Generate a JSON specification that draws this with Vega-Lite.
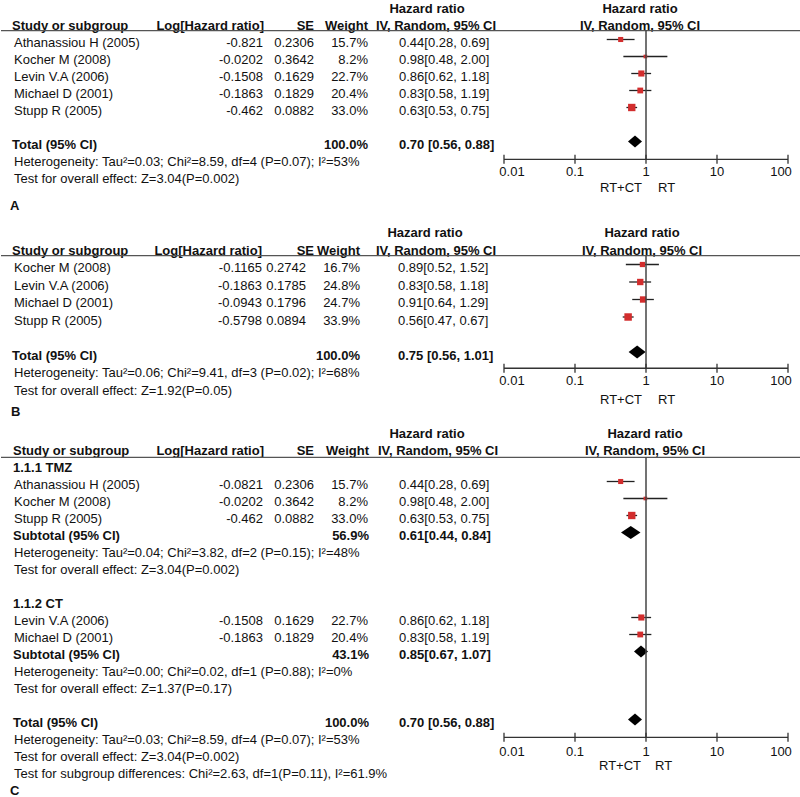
{
"$schema": "https://vega.github.io/schema/vega-lite/v6.json",
"padding": 0,
"spacing": 0,
"bounds": "flush",
"background": "white",
"config": {"view": {"stroke": null}, "text": {"font": "Liberation Sans", "fontSize": 13, "baseline": "middle", "color": "#111"}},
"datasets": {
"ticks": [{"v": 0.01}, {"v": 0.1}, {"v": 1}, {"v": 10}, {"v": 100}],
"tA": [
{"r": -1, "hc": "Hazard ratio", "ph": "Hazard ratio"},
{"r": 0, "label": "Study or subgroup", "lhr": "Log[Hazard ratio]", "se": "SE", "w": "Weight", "b": true, "hc": "IV, Random, 95% CI", "ph": "IV, Random, 95% CI"},
{"r": 1, "label": "Athanassiou H (2005)", "lhr": "-0.821", "se": "0.2306", "w": "15.7%", "ci": "0.44[0.28, 0.69]"},
{"r": 2, "label": "Kocher M (2008)", "lhr": "-0.0202", "se": "0.3642", "w": "8.2%", "ci": "0.98[0.48, 2.00]"},
{"r": 3, "label": "Levin V.A (2006)", "lhr": "-0.1508", "se": "0.1629", "w": "22.7%", "ci": "0.86[0.62, 1.18]"},
{"r": 4, "label": "Michael D (2001)", "lhr": "-0.1863", "se": "0.1829", "w": "20.4%", "ci": "0.83[0.58, 1.19]"},
{"r": 5, "label": "Stupp R (2005)", "lhr": "-0.462", "se": "0.0882", "w": "33.0%", "ci": "0.63[0.53, 0.75]"},
{"r": 7, "label": "Total (95% CI)", "w": "100.0%", "ci": "0.70 [0.56, 0.88]", "b": true},
{"r": 8, "label": "Heterogeneity: Tau²=0.03; Chi²=8.59, df=4 (P=0.07); I²=53%"},
{"r": 9, "label": "Test for overall effect: Z=3.04(P=0.002)"}
],
"fA": [
{"r": 1, "hr": 0.44, "lo": 0.28, "hi": 0.69, "w": 15.7},
{"r": 2, "hr": 0.98, "lo": 0.48, "hi": 2.00, "w": 8.2},
{"r": 3, "hr": 0.86, "lo": 0.62, "hi": 1.18, "w": 22.7},
{"r": 4, "hr": 0.83, "lo": 0.58, "hi": 1.19, "w": 20.4},
{"r": 5, "hr": 0.63, "lo": 0.53, "hi": 0.75, "w": 33.0}
],
"dA": [{"r": 7, "hr": 0.70, "k": "A"}],
"tB": [
{"r": -1, "hc": "Hazard ratio", "ph": "Hazard ratio"},
{"r": 0, "label": "Study or subgroup", "lhr": "Log[Hazard ratio]", "se": "SE", "w": "Weight", "b": true, "hc": "IV, Random, 95% CI", "ph": "IV, Random, 95% CI"},
{"r": 1, "label": "Kocher M (2008)", "lhr": "-0.1165", "se": "0.2742", "w": "16.7%", "ci": "0.89[0.52, 1.52]"},
{"r": 2, "label": "Levin V.A (2006)", "lhr": "-0.1863", "se": "0.1785", "w": "24.8%", "ci": "0.83[0.58, 1.18]"},
{"r": 3, "label": "Michael D (2001)", "lhr": "-0.0943", "se": "0.1796", "w": "24.7%", "ci": "0.91[0.64, 1.29]"},
{"r": 4, "label": "Stupp R (2005)", "lhr": "-0.5798", "se": "0.0894", "w": "33.9%", "ci": "0.56[0.47, 0.67]"},
{"r": 6, "label": "Total (95% CI)", "w": "100.0%", "ci": "0.75 [0.56, 1.01]", "b": true},
{"r": 7, "label": "Heterogeneity: Tau²=0.06; Chi²=9.41, df=3 (P=0.02); I²=68%"},
{"r": 8, "label": "Test for overall effect: Z=1.92(P=0.05)"}
],
"fB": [
{"r": 1, "hr": 0.89, "lo": 0.52, "hi": 1.52, "w": 16.7},
{"r": 2, "hr": 0.83, "lo": 0.58, "hi": 1.18, "w": 24.8},
{"r": 3, "hr": 0.91, "lo": 0.64, "hi": 1.29, "w": 24.7},
{"r": 4, "hr": 0.56, "lo": 0.47, "hi": 0.67, "w": 33.9}
],
"dB": [{"r": 6, "hr": 0.75, "k": "B"}],
"tC": [
{"r": -1, "hc": "Hazard ratio", "ph": "Hazard ratio"},
{"r": 0, "label": "Study or subgroup", "lhr": "Log[Hazard ratio]", "se": "SE", "w": "Weight", "b": true, "hc": "IV, Random, 95% CI", "ph": "IV, Random, 95% CI"},
{"r": 1, "label": "1.1.1 TMZ", "b": true},
{"r": 2, "label": "Athanassiou H (2005)", "lhr": "-0.0821", "se": "0.2306", "w": "15.7%", "ci": "0.44[0.28, 0.69]"},
{"r": 3, "label": "Kocher M (2008)", "lhr": "-0.0202", "se": "0.3642", "w": "8.2%", "ci": "0.98[0.48, 2.00]"},
{"r": 4, "label": "Stupp R (2005)", "lhr": "-0.462", "se": "0.0882", "w": "33.0%", "ci": "0.63[0.53, 0.75]"},
{"r": 5, "label": "Subtotal (95% CI)", "w": "56.9%", "ci": "0.61[0.44, 0.84]", "b": true},
{"r": 6, "label": "Heterogeneity: Tau²=0.04; Chi²=3.82, df=2 (P=0.15); I²=48%"},
{"r": 7, "label": "Test for overall effect: Z=3.04(P=0.002)"},
{"r": 9, "label": "1.1.2 CT", "b": true},
{"r": 10, "label": "Levin V.A (2006)", "lhr": "-0.1508", "se": "0.1629", "w": "22.7%", "ci": "0.86[0.62, 1.18]"},
{"r": 11, "label": "Michael D (2001)", "lhr": "-0.1863", "se": "0.1829", "w": "20.4%", "ci": "0.83[0.58, 1.19]"},
{"r": 12, "label": "Subtotal (95% CI)", "w": "43.1%", "ci": "0.85[0.67, 1.07]", "b": true},
{"r": 13, "label": "Heterogeneity: Tau²=0.00; Chi²=0.02, df=1 (P=0.88); I²=0%"},
{"r": 14, "label": "Test for overall effect: Z=1.37(P=0.17)"},
{"r": 16, "label": "Total (95% CI)", "w": "100.0%", "ci": "0.70 [0.56, 0.88]", "b": true},
{"r": 17, "label": "Heterogeneity: Tau²=0.03; Chi²=8.59, df=4 (P=0.07); I²=53%"},
{"r": 18, "label": "Test for overall effect: Z=3.04(P=0.002)"},
{"r": 19, "label": "Test for subgroup differences: Chi²=2.63, df=1(P=0.11), I²=61.9%"}
],
"fC": [
{"r": 2, "hr": 0.44, "lo": 0.28, "hi": 0.69, "w": 15.7},
{"r": 3, "hr": 0.98, "lo": 0.48, "hi": 2.00, "w": 8.2},
{"r": 4, "hr": 0.63, "lo": 0.53, "hi": 0.75, "w": 33.0},
{"r": 10, "hr": 0.86, "lo": 0.62, "hi": 1.18, "w": 22.7},
{"r": 11, "hr": 0.83, "lo": 0.58, "hi": 1.19, "w": 20.4}
],
"dC": [{"r": 5, "hr": 0.61, "k": "C1"}, {"r": 12, "hr": 0.85, "k": "C2"}, {"r": 16, "hr": 0.70, "k": "C3"}]
},
"vconcat": [
{
"width": 800, "height": 215,
"resolve": {"scale": {"x": "independent"}, "axis": {"x": "independent"}},
"layer": [
{"data": {"name": "tA"}, "layer": [
{"transform": [{"filter": "isValid(datum.label) && !datum.b"}], "mark": {"type": "text", "align": "left"}, "encoding": {"x": {"datum": 13, "type": "quantitative", "scale": {"domain": [0, 800], "range": [0, 800], "nice": false, "zero": false}, "axis": null}, "y": {"field": "r", "type": "quantitative", "scale": {"domain": [0, 10], "range": [26, 196], "nice": false, "zero": false}, "axis": null}, "text": {"field": "label", "type": "nominal"}}},
{"transform": [{"filter": "isValid(datum.label) && datum.b"}], "mark": {"type": "text", "align": "left", "fontWeight": "bold"}, "encoding": {"x": {"datum": 11, "type": "quantitative", "scale": {"domain": [0, 800], "range": [0, 800], "nice": false, "zero": false}, "axis": null}, "y": {"field": "r", "type": "quantitative", "scale": {"domain": [0, 10], "range": [26, 196], "nice": false, "zero": false}, "axis": null}, "text": {"field": "label", "type": "nominal"}}},
{"transform": [{"filter": "isValid(datum.lhr) && !datum.b"}], "mark": {"type": "text", "align": "right"}, "encoding": {"x": {"datum": 262, "type": "quantitative", "scale": {"domain": [0, 800], "range": [0, 800], "nice": false, "zero": false}, "axis": null}, "y": {"field": "r", "type": "quantitative", "scale": {"domain": [0, 10], "range": [26, 196], "nice": false, "zero": false}, "axis": null}, "text": {"field": "lhr", "type": "nominal"}}},
{"transform": [{"filter": "isValid(datum.lhr) && datum.b"}], "mark": {"type": "text", "align": "right", "fontWeight": "bold"}, "encoding": {"x": {"datum": 263, "type": "quantitative", "scale": {"domain": [0, 800], "range": [0, 800], "nice": false, "zero": false}, "axis": null}, "y": {"field": "r", "type": "quantitative", "scale": {"domain": [0, 10], "range": [26, 196], "nice": false, "zero": false}, "axis": null}, "text": {"field": "lhr", "type": "nominal"}}},
{"transform": [{"filter": "isValid(datum.se) && !datum.b"}], "mark": {"type": "text", "align": "right"}, "encoding": {"x": {"datum": 313, "type": "quantitative", "scale": {"domain": [0, 800], "range": [0, 800], "nice": false, "zero": false}, "axis": null}, "y": {"field": "r", "type": "quantitative", "scale": {"domain": [0, 10], "range": [26, 196], "nice": false, "zero": false}, "axis": null}, "text": {"field": "se", "type": "nominal"}}},
{"transform": [{"filter": "isValid(datum.se) && datum.b"}], "mark": {"type": "text", "align": "right", "fontWeight": "bold"}, "encoding": {"x": {"datum": 313, "type": "quantitative", "scale": {"domain": [0, 800], "range": [0, 800], "nice": false, "zero": false}, "axis": null}, "y": {"field": "r", "type": "quantitative", "scale": {"domain": [0, 10], "range": [26, 196], "nice": false, "zero": false}, "axis": null}, "text": {"field": "se", "type": "nominal"}}},
{"transform": [{"filter": "isValid(datum.w) && !datum.b"}], "mark": {"type": "text", "align": "right"}, "encoding": {"x": {"datum": 367, "type": "quantitative", "scale": {"domain": [0, 800], "range": [0, 800], "nice": false, "zero": false}, "axis": null}, "y": {"field": "r", "type": "quantitative", "scale": {"domain": [0, 10], "range": [26, 196], "nice": false, "zero": false}, "axis": null}, "text": {"field": "w", "type": "nominal"}}},
{"transform": [{"filter": "isValid(datum.w) && datum.b"}], "mark": {"type": "text", "align": "right", "fontWeight": "bold"}, "encoding": {"x": {"datum": 367, "type": "quantitative", "scale": {"domain": [0, 800], "range": [0, 800], "nice": false, "zero": false}, "axis": null}, "y": {"field": "r", "type": "quantitative", "scale": {"domain": [0, 10], "range": [26, 196], "nice": false, "zero": false}, "axis": null}, "text": {"field": "w", "type": "nominal"}}},
{"transform": [{"filter": "isValid(datum.ci) && !datum.b"}], "mark": {"type": "text", "align": "left"}, "encoding": {"x": {"datum": 398, "type": "quantitative", "scale": {"domain": [0, 800], "range": [0, 800], "nice": false, "zero": false}, "axis": null}, "y": {"field": "r", "type": "quantitative", "scale": {"domain": [0, 10], "range": [26, 196], "nice": false, "zero": false}, "axis": null}, "text": {"field": "ci", "type": "nominal"}}},
{"transform": [{"filter": "isValid(datum.ci) && datum.b"}], "mark": {"type": "text", "align": "left", "fontWeight": "bold"}, "encoding": {"x": {"datum": 398, "type": "quantitative", "scale": {"domain": [0, 800], "range": [0, 800], "nice": false, "zero": false}, "axis": null}, "y": {"field": "r", "type": "quantitative", "scale": {"domain": [0, 10], "range": [26, 196], "nice": false, "zero": false}, "axis": null}, "text": {"field": "ci", "type": "nominal"}}},
{"transform": [{"filter": "isValid(datum.hc) && datum.r < 0"}], "mark": {"type": "text", "align": "center", "fontWeight": "bold"}, "encoding": {"x": {"datum": 426, "type": "quantitative", "scale": {"domain": [0, 800], "range": [0, 800], "nice": false, "zero": false}, "axis": null}, "y": {"field": "r", "type": "quantitative", "scale": {"domain": [0, 10], "range": [26, 196], "nice": false, "zero": false}, "axis": null}, "text": {"field": "hc", "type": "nominal"}}},
{"transform": [{"filter": "isValid(datum.hc) && datum.r >= 0"}], "mark": {"type": "text", "align": "center", "fontWeight": "bold"}, "encoding": {"x": {"datum": 435, "type": "quantitative", "scale": {"domain": [0, 800], "range": [0, 800], "nice": false, "zero": false}, "axis": null}, "y": {"field": "r", "type": "quantitative", "scale": {"domain": [0, 10], "range": [26, 196], "nice": false, "zero": false}, "axis": null}, "text": {"field": "hc", "type": "nominal"}}},
{"transform": [{"filter": "isValid(datum.ph)"}], "mark": {"type": "text", "align": "center", "fontWeight": "bold"}, "encoding": {"x": {"datum": 639, "type": "quantitative", "scale": {"domain": [0, 800], "range": [0, 800], "nice": false, "zero": false}, "axis": null}, "y": {"field": "r", "type": "quantitative", "scale": {"domain": [0, 10], "range": [26, 196], "nice": false, "zero": false}, "axis": null}, "text": {"field": "ph", "type": "nominal"}}},
{"data": {"values": [{}]}, "mark": {"type": "rule", "color": "#555", "strokeWidth": 1.3}, "encoding": {"y": {"datum": 0.27, "type": "quantitative", "scale": {"domain": [0, 10], "range": [26, 196], "nice": false, "zero": false}, "axis": null}}},
{"data": {"values": [{}]}, "mark": {"type": "text", "align": "left", "fontWeight": "bold"}, "encoding": {"x": {"datum": 9, "type": "quantitative", "scale": {"domain": [0, 800], "range": [0, 800], "nice": false, "zero": false}, "axis": null}, "y": {"datum": 10.57, "type": "quantitative", "scale": {"domain": [0, 10], "range": [26, 196], "nice": false, "zero": false}, "axis": null}, "text": {"value": "A"}}}
]},
{"layer": [
{"data": {"name": "fA"}, "mark": {"type": "rule", "color": "#222", "strokeWidth": 1.3, "yOffset": -3.5}, "encoding": {"x": {"field": "lo", "type": "quantitative", "scale": {"type": "log", "domain": [0.01, 100], "range": [503, 787], "nice": false}, "axis": null}, "x2": {"field": "hi"}, "y": {"field": "r", "type": "quantitative", "scale": {"domain": [0, 10], "range": [26, 196], "nice": false, "zero": false}, "axis": null}}},
{"data": {"name": "fA"}, "mark": {"type": "point", "shape": "square", "filled": true, "color": "#d22d2d", "opacity": 1, "yOffset": -3.5}, "encoding": {"x": {"field": "hr", "type": "quantitative", "scale": {"type": "log", "domain": [0.01, 100], "range": [503, 787], "nice": false}, "axis": null}, "y": {"field": "r", "type": "quantitative", "scale": {"domain": [0, 10], "range": [26, 196], "nice": false, "zero": false}, "axis": null}, "size": {"field": "w", "type": "quantitative", "scale": {"domain": [0, 34], "range": [0, 56]}, "legend": null}}},
{"data": {"name": "dA"}, "mark": {"type": "point", "filled": true, "color": "#000", "opacity": 1, "size": 169, "yOffset": -3.5}, "encoding": {"x": {"field": "hr", "type": "quantitative", "scale": {"type": "log", "domain": [0.01, 100], "range": [503, 787], "nice": false}, "axis": null}, "y": {"field": "r", "type": "quantitative", "scale": {"domain": [0, 10], "range": [26, 196], "nice": false, "zero": false}, "axis": null}, "shape": {"field": "k", "type": "nominal", "scale": {"domain": ["A", "B", "C1", "C2", "C3"], "range": ["M-1.08,0L0,-0.92L1.08,0L0,0.92Z", "M-1.31,0L0,-1L1.31,0L0,1Z", "M-1.5,0L0,-1L1.5,0L0,1Z", "M-1.08,0L0,-0.92L1.08,0L0,0.92Z", "M-1.08,0L0,-0.92L1.08,0L0,0.92Z"]}, "legend": null}}},
{"data": {"values": [{}]}, "mark": {"type": "rule", "color": "#444", "strokeWidth": 1.5}, "encoding": {"x": {"datum": 1, "type": "quantitative", "scale": {"type": "log", "domain": [0.01, 100], "range": [503, 787], "nice": false}, "axis": null}, "y": {"datum": 0.27, "type": "quantitative", "scale": {"domain": [0, 10], "range": [26, 196], "nice": false, "zero": false}, "axis": null}, "y2": {"datum": 7.84}}},
{"data": {"values": [{}]}, "mark": {"type": "rule", "color": "#333", "strokeWidth": 1.3}, "encoding": {"x": {"datum": 0.01, "type": "quantitative", "scale": {"type": "log", "domain": [0.01, 100], "range": [503, 787], "nice": false}, "axis": null}, "x2": {"datum": 100}, "y": {"datum": 7.84, "type": "quantitative", "scale": {"domain": [0, 10], "range": [26, 196], "nice": false, "zero": false}, "axis": null}}},
{"data": {"name": "ticks"}, "mark": {"type": "rule", "color": "#333", "strokeWidth": 1.3}, "encoding": {"x": {"field": "v", "type": "quantitative", "scale": {"type": "log", "domain": [0.01, 100], "range": [503, 787], "nice": false}, "axis": null}, "y": {"datum": 7.575, "type": "quantitative", "scale": {"domain": [0, 10], "range": [26, 196], "nice": false, "zero": false}, "axis": null}, "y2": {"datum": 8.105}}},
{"data": {"name": "ticks"}, "transform": [{"filter": "datum.v > 0.01 && datum.v < 100"}], "mark": {"type": "text", "align": "center"}, "encoding": {"x": {"field": "v", "type": "quantitative", "scale": {"type": "log", "domain": [0.01, 100], "range": [503, 787], "nice": false}, "axis": null}, "y": {"datum": 8.615, "type": "quantitative", "scale": {"domain": [0, 10], "range": [26, 196], "nice": false, "zero": false}, "axis": null}, "text": {"field": "v", "type": "quantitative", "format": "~g"}}},
{"data": {"name": "ticks"}, "transform": [{"filter": "datum.v <= 0.01"}], "mark": {"type": "text", "align": "center", "dx": 8}, "encoding": {"x": {"field": "v", "type": "quantitative", "scale": {"type": "log", "domain": [0.01, 100], "range": [503, 787], "nice": false}, "axis": null}, "y": {"datum": 8.615, "type": "quantitative", "scale": {"domain": [0, 10], "range": [26, 196], "nice": false, "zero": false}, "axis": null}, "text": {"field": "v", "type": "quantitative", "format": "~g"}}},
{"data": {"name": "ticks"}, "transform": [{"filter": "datum.v >= 100"}], "mark": {"type": "text", "align": "center", "dx": -7}, "encoding": {"x": {"field": "v", "type": "quantitative", "scale": {"type": "log", "domain": [0.01, 100], "range": [503, 787], "nice": false}, "axis": null}, "y": {"datum": 8.615, "type": "quantitative", "scale": {"domain": [0, 10], "range": [26, 196], "nice": false, "zero": false}, "axis": null}, "text": {"field": "v", "type": "quantitative", "format": "~g"}}},
{"data": {"values": [{}]}, "mark": {"type": "text", "align": "right", "dx": -4}, "encoding": {"x": {"datum": 1, "type": "quantitative", "scale": {"type": "log", "domain": [0.01, 100], "range": [503, 787], "nice": false}, "axis": null}, "y": {"datum": 9.53, "type": "quantitative", "scale": {"domain": [0, 10], "range": [26, 196], "nice": false, "zero": false}, "axis": null}, "text": {"value": "RT+CT"}}},
{"data": {"values": [{}]}, "mark": {"type": "text", "align": "left", "dx": 12}, "encoding": {"x": {"datum": 1, "type": "quantitative", "scale": {"type": "log", "domain": [0.01, 100], "range": [503, 787], "nice": false}, "axis": null}, "y": {"datum": 9.53, "type": "quantitative", "scale": {"domain": [0, 10], "range": [26, 196], "nice": false, "zero": false}, "axis": null}, "text": {"value": "RT"}}}
]}
]
},
{
"width": 800, "height": 200,
"resolve": {"scale": {"x": "independent"}, "axis": {"x": "independent"}},
"layer": [
{"data": {"name": "tB"}, "layer": [
{"transform": [{"filter": "isValid(datum.label) && !datum.b"}], "mark": {"type": "text", "align": "left"}, "encoding": {"x": {"datum": 13, "type": "quantitative", "scale": {"domain": [0, 800], "range": [0, 800], "nice": false, "zero": false}, "axis": null}, "y": {"field": "r", "type": "quantitative", "scale": {"domain": [0, 10], "range": [35.5, 210.5], "nice": false, "zero": false}, "axis": null}, "text": {"field": "label", "type": "nominal"}}},
{"transform": [{"filter": "isValid(datum.label) && datum.b"}], "mark": {"type": "text", "align": "left", "fontWeight": "bold"}, "encoding": {"x": {"datum": 11, "type": "quantitative", "scale": {"domain": [0, 800], "range": [0, 800], "nice": false, "zero": false}, "axis": null}, "y": {"field": "r", "type": "quantitative", "scale": {"domain": [0, 10], "range": [35.5, 210.5], "nice": false, "zero": false}, "axis": null}, "text": {"field": "label", "type": "nominal"}}},
{"transform": [{"filter": "isValid(datum.lhr) && !datum.b"}], "mark": {"type": "text", "align": "right"}, "encoding": {"x": {"datum": 261, "type": "quantitative", "scale": {"domain": [0, 800], "range": [0, 800], "nice": false, "zero": false}, "axis": null}, "y": {"field": "r", "type": "quantitative", "scale": {"domain": [0, 10], "range": [35.5, 210.5], "nice": false, "zero": false}, "axis": null}, "text": {"field": "lhr", "type": "nominal"}}},
{"transform": [{"filter": "isValid(datum.lhr) && datum.b"}], "mark": {"type": "text", "align": "right", "fontWeight": "bold"}, "encoding": {"x": {"datum": 261, "type": "quantitative", "scale": {"domain": [0, 800], "range": [0, 800], "nice": false, "zero": false}, "axis": null}, "y": {"field": "r", "type": "quantitative", "scale": {"domain": [0, 10], "range": [35.5, 210.5], "nice": false, "zero": false}, "axis": null}, "text": {"field": "lhr", "type": "nominal"}}},
{"transform": [{"filter": "isValid(datum.se) && !datum.b"}], "mark": {"type": "text", "align": "right"}, "encoding": {"x": {"datum": 305, "type": "quantitative", "scale": {"domain": [0, 800], "range": [0, 800], "nice": false, "zero": false}, "axis": null}, "y": {"field": "r", "type": "quantitative", "scale": {"domain": [0, 10], "range": [35.5, 210.5], "nice": false, "zero": false}, "axis": null}, "text": {"field": "se", "type": "nominal"}}},
{"transform": [{"filter": "isValid(datum.se) && datum.b"}], "mark": {"type": "text", "align": "right", "fontWeight": "bold"}, "encoding": {"x": {"datum": 313, "type": "quantitative", "scale": {"domain": [0, 800], "range": [0, 800], "nice": false, "zero": false}, "axis": null}, "y": {"field": "r", "type": "quantitative", "scale": {"domain": [0, 10], "range": [35.5, 210.5], "nice": false, "zero": false}, "axis": null}, "text": {"field": "se", "type": "nominal"}}},
{"transform": [{"filter": "isValid(datum.w) && !datum.b"}], "mark": {"type": "text", "align": "right"}, "encoding": {"x": {"datum": 359, "type": "quantitative", "scale": {"domain": [0, 800], "range": [0, 800], "nice": false, "zero": false}, "axis": null}, "y": {"field": "r", "type": "quantitative", "scale": {"domain": [0, 10], "range": [35.5, 210.5], "nice": false, "zero": false}, "axis": null}, "text": {"field": "w", "type": "nominal"}}},
{"transform": [{"filter": "isValid(datum.w) && datum.b"}], "mark": {"type": "text", "align": "right", "fontWeight": "bold"}, "encoding": {"x": {"datum": 359, "type": "quantitative", "scale": {"domain": [0, 800], "range": [0, 800], "nice": false, "zero": false}, "axis": null}, "y": {"field": "r", "type": "quantitative", "scale": {"domain": [0, 10], "range": [35.5, 210.5], "nice": false, "zero": false}, "axis": null}, "text": {"field": "w", "type": "nominal"}}},
{"transform": [{"filter": "isValid(datum.ci) && !datum.b"}], "mark": {"type": "text", "align": "left"}, "encoding": {"x": {"datum": 397, "type": "quantitative", "scale": {"domain": [0, 800], "range": [0, 800], "nice": false, "zero": false}, "axis": null}, "y": {"field": "r", "type": "quantitative", "scale": {"domain": [0, 10], "range": [35.5, 210.5], "nice": false, "zero": false}, "axis": null}, "text": {"field": "ci", "type": "nominal"}}},
{"transform": [{"filter": "isValid(datum.ci) && datum.b"}], "mark": {"type": "text", "align": "left", "fontWeight": "bold"}, "encoding": {"x": {"datum": 397, "type": "quantitative", "scale": {"domain": [0, 800], "range": [0, 800], "nice": false, "zero": false}, "axis": null}, "y": {"field": "r", "type": "quantitative", "scale": {"domain": [0, 10], "range": [35.5, 210.5], "nice": false, "zero": false}, "axis": null}, "text": {"field": "ci", "type": "nominal"}}},
{"transform": [{"filter": "isValid(datum.hc) && datum.r < 0"}], "mark": {"type": "text", "align": "center", "fontWeight": "bold"}, "encoding": {"x": {"datum": 424, "type": "quantitative", "scale": {"domain": [0, 800], "range": [0, 800], "nice": false, "zero": false}, "axis": null}, "y": {"field": "r", "type": "quantitative", "scale": {"domain": [0, 10], "range": [35.5, 210.5], "nice": false, "zero": false}, "axis": null}, "text": {"field": "hc", "type": "nominal"}}},
{"transform": [{"filter": "isValid(datum.hc) && datum.r >= 0"}], "mark": {"type": "text", "align": "center", "fontWeight": "bold"}, "encoding": {"x": {"datum": 435, "type": "quantitative", "scale": {"domain": [0, 800], "range": [0, 800], "nice": false, "zero": false}, "axis": null}, "y": {"field": "r", "type": "quantitative", "scale": {"domain": [0, 10], "range": [35.5, 210.5], "nice": false, "zero": false}, "axis": null}, "text": {"field": "hc", "type": "nominal"}}},
{"transform": [{"filter": "isValid(datum.ph)"}], "mark": {"type": "text", "align": "center", "fontWeight": "bold"}, "encoding": {"x": {"datum": 641, "type": "quantitative", "scale": {"domain": [0, 800], "range": [0, 800], "nice": false, "zero": false}, "axis": null}, "y": {"field": "r", "type": "quantitative", "scale": {"domain": [0, 10], "range": [35.5, 210.5], "nice": false, "zero": false}, "axis": null}, "text": {"field": "ph", "type": "nominal"}}},
{"data": {"values": [{}]}, "mark": {"type": "rule", "color": "#555", "strokeWidth": 1.3}, "encoding": {"y": {"datum": 0.29, "type": "quantitative", "scale": {"domain": [0, 10], "range": [35.5, 210.5], "nice": false, "zero": false}, "axis": null}}},
{"data": {"values": [{}]}, "mark": {"type": "text", "align": "left", "fontWeight": "bold"}, "encoding": {"x": {"datum": 10, "type": "quantitative", "scale": {"domain": [0, 800], "range": [0, 800], "nice": false, "zero": false}, "axis": null}, "y": {"datum": 9.25, "type": "quantitative", "scale": {"domain": [0, 10], "range": [35.5, 210.5], "nice": false, "zero": false}, "axis": null}, "text": {"value": "B"}}}
]},
{"layer": [
{"data": {"name": "fB"}, "mark": {"type": "rule", "color": "#222", "strokeWidth": 1.3, "yOffset": -3.5}, "encoding": {"x": {"field": "lo", "type": "quantitative", "scale": {"type": "log", "domain": [0.01, 100], "range": [503, 787], "nice": false}, "axis": null}, "x2": {"field": "hi"}, "y": {"field": "r", "type": "quantitative", "scale": {"domain": [0, 10], "range": [35.5, 210.5], "nice": false, "zero": false}, "axis": null}}},
{"data": {"name": "fB"}, "mark": {"type": "point", "shape": "square", "filled": true, "color": "#d22d2d", "opacity": 1, "yOffset": -3.5}, "encoding": {"x": {"field": "hr", "type": "quantitative", "scale": {"type": "log", "domain": [0.01, 100], "range": [503, 787], "nice": false}, "axis": null}, "y": {"field": "r", "type": "quantitative", "scale": {"domain": [0, 10], "range": [35.5, 210.5], "nice": false, "zero": false}, "axis": null}, "size": {"field": "w", "type": "quantitative", "scale": {"domain": [0, 34], "range": [0, 56]}, "legend": null}}},
{"data": {"name": "dB"}, "mark": {"type": "point", "filled": true, "color": "#000", "opacity": 1, "size": 169, "yOffset": -3.5}, "encoding": {"x": {"field": "hr", "type": "quantitative", "scale": {"type": "log", "domain": [0.01, 100], "range": [503, 787], "nice": false}, "axis": null}, "y": {"field": "r", "type": "quantitative", "scale": {"domain": [0, 10], "range": [35.5, 210.5], "nice": false, "zero": false}, "axis": null}, "shape": {"field": "k", "type": "nominal", "scale": {"domain": ["A", "B", "C1", "C2", "C3"], "range": ["M-1.08,0L0,-0.92L1.08,0L0,0.92Z", "M-1.31,0L0,-1L1.31,0L0,1Z", "M-1.5,0L0,-1L1.5,0L0,1Z", "M-1.08,0L0,-0.92L1.08,0L0,0.92Z", "M-1.08,0L0,-0.92L1.08,0L0,0.92Z"]}, "legend": null}}},
{"data": {"values": [{}]}, "mark": {"type": "rule", "color": "#444", "strokeWidth": 1.5}, "encoding": {"x": {"datum": 1, "type": "quantitative", "scale": {"type": "log", "domain": [0.01, 100], "range": [503, 787], "nice": false}, "axis": null}, "y": {"datum": 0.29, "type": "quantitative", "scale": {"domain": [0, 10], "range": [35.5, 210.5], "nice": false, "zero": false}, "axis": null}, "y2": {"datum": 6.73}}},
{"data": {"values": [{}]}, "mark": {"type": "rule", "color": "#333", "strokeWidth": 1.3}, "encoding": {"x": {"datum": 0.01, "type": "quantitative", "scale": {"type": "log", "domain": [0.01, 100], "range": [503, 787], "nice": false}, "axis": null}, "x2": {"datum": 100}, "y": {"datum": 6.73, "type": "quantitative", "scale": {"domain": [0, 10], "range": [35.5, 210.5], "nice": false, "zero": false}, "axis": null}}},
{"data": {"name": "ticks"}, "mark": {"type": "rule", "color": "#333", "strokeWidth": 1.3}, "encoding": {"x": {"field": "v", "type": "quantitative", "scale": {"type": "log", "domain": [0.01, 100], "range": [503, 787], "nice": false}, "axis": null}, "y": {"datum": 6.47, "type": "quantitative", "scale": {"domain": [0, 10], "range": [35.5, 210.5], "nice": false, "zero": false}, "axis": null}, "y2": {"datum": 6.99}}},
{"data": {"name": "ticks"}, "transform": [{"filter": "datum.v > 0.01 && datum.v < 100"}], "mark": {"type": "text", "align": "center"}, "encoding": {"x": {"field": "v", "type": "quantitative", "scale": {"type": "log", "domain": [0.01, 100], "range": [503, 787], "nice": false}, "axis": null}, "y": {"datum": 7.48, "type": "quantitative", "scale": {"domain": [0, 10], "range": [35.5, 210.5], "nice": false, "zero": false}, "axis": null}, "text": {"field": "v", "type": "quantitative", "format": "~g"}}},
{"data": {"name": "ticks"}, "transform": [{"filter": "datum.v <= 0.01"}], "mark": {"type": "text", "align": "center", "dx": 8}, "encoding": {"x": {"field": "v", "type": "quantitative", "scale": {"type": "log", "domain": [0.01, 100], "range": [503, 787], "nice": false}, "axis": null}, "y": {"datum": 7.48, "type": "quantitative", "scale": {"domain": [0, 10], "range": [35.5, 210.5], "nice": false, "zero": false}, "axis": null}, "text": {"field": "v", "type": "quantitative", "format": "~g"}}},
{"data": {"name": "ticks"}, "transform": [{"filter": "datum.v >= 100"}], "mark": {"type": "text", "align": "center", "dx": -7}, "encoding": {"x": {"field": "v", "type": "quantitative", "scale": {"type": "log", "domain": [0.01, 100], "range": [503, 787], "nice": false}, "axis": null}, "y": {"datum": 7.48, "type": "quantitative", "scale": {"domain": [0, 10], "range": [35.5, 210.5], "nice": false, "zero": false}, "axis": null}, "text": {"field": "v", "type": "quantitative", "format": "~g"}}},
{"data": {"values": [{}]}, "mark": {"type": "text", "align": "right", "dx": -4}, "encoding": {"x": {"datum": 1, "type": "quantitative", "scale": {"type": "log", "domain": [0.01, 100], "range": [503, 787], "nice": false}, "axis": null}, "y": {"datum": 8.53, "type": "quantitative", "scale": {"domain": [0, 10], "range": [35.5, 210.5], "nice": false, "zero": false}, "axis": null}, "text": {"value": "RT+CT"}}},
{"data": {"values": [{}]}, "mark": {"type": "text", "align": "left", "dx": 12}, "encoding": {"x": {"datum": 1, "type": "quantitative", "scale": {"type": "log", "domain": [0.01, 100], "range": [503, 787], "nice": false}, "axis": null}, "y": {"datum": 8.53, "type": "quantitative", "scale": {"domain": [0, 10], "range": [35.5, 210.5], "nice": false, "zero": false}, "axis": null}, "text": {"value": "RT"}}}
]}
]
},
{
"width": 800, "height": 382,
"resolve": {"scale": {"x": "independent"}, "axis": {"x": "independent"}},
"layer": [
{"data": {"name": "tC"}, "layer": [
{"transform": [{"filter": "isValid(datum.label) && !datum.b"}], "mark": {"type": "text", "align": "left"}, "encoding": {"x": {"datum": 13, "type": "quantitative", "scale": {"domain": [0, 800], "range": [0, 800], "nice": false, "zero": false}, "axis": null}, "y": {"field": "r", "type": "quantitative", "scale": {"domain": [0, 20], "range": [36, 376], "nice": false, "zero": false}, "axis": null}, "text": {"field": "label", "type": "nominal"}}},
{"transform": [{"filter": "isValid(datum.label) && datum.b"}], "mark": {"type": "text", "align": "left", "fontWeight": "bold"}, "encoding": {"x": {"datum": 12, "type": "quantitative", "scale": {"domain": [0, 800], "range": [0, 800], "nice": false, "zero": false}, "axis": null}, "y": {"field": "r", "type": "quantitative", "scale": {"domain": [0, 20], "range": [36, 376], "nice": false, "zero": false}, "axis": null}, "text": {"field": "label", "type": "nominal"}}},
{"transform": [{"filter": "isValid(datum.lhr) && !datum.b"}], "mark": {"type": "text", "align": "right"}, "encoding": {"x": {"datum": 262, "type": "quantitative", "scale": {"domain": [0, 800], "range": [0, 800], "nice": false, "zero": false}, "axis": null}, "y": {"field": "r", "type": "quantitative", "scale": {"domain": [0, 20], "range": [36, 376], "nice": false, "zero": false}, "axis": null}, "text": {"field": "lhr", "type": "nominal"}}},
{"transform": [{"filter": "isValid(datum.lhr) && datum.b"}], "mark": {"type": "text", "align": "right", "fontWeight": "bold"}, "encoding": {"x": {"datum": 263, "type": "quantitative", "scale": {"domain": [0, 800], "range": [0, 800], "nice": false, "zero": false}, "axis": null}, "y": {"field": "r", "type": "quantitative", "scale": {"domain": [0, 20], "range": [36, 376], "nice": false, "zero": false}, "axis": null}, "text": {"field": "lhr", "type": "nominal"}}},
{"transform": [{"filter": "isValid(datum.se) && !datum.b"}], "mark": {"type": "text", "align": "right"}, "encoding": {"x": {"datum": 313, "type": "quantitative", "scale": {"domain": [0, 800], "range": [0, 800], "nice": false, "zero": false}, "axis": null}, "y": {"field": "r", "type": "quantitative", "scale": {"domain": [0, 20], "range": [36, 376], "nice": false, "zero": false}, "axis": null}, "text": {"field": "se", "type": "nominal"}}},
{"transform": [{"filter": "isValid(datum.se) && datum.b"}], "mark": {"type": "text", "align": "right", "fontWeight": "bold"}, "encoding": {"x": {"datum": 313, "type": "quantitative", "scale": {"domain": [0, 800], "range": [0, 800], "nice": false, "zero": false}, "axis": null}, "y": {"field": "r", "type": "quantitative", "scale": {"domain": [0, 20], "range": [36, 376], "nice": false, "zero": false}, "axis": null}, "text": {"field": "se", "type": "nominal"}}},
{"transform": [{"filter": "isValid(datum.w) && !datum.b"}], "mark": {"type": "text", "align": "right"}, "encoding": {"x": {"datum": 367, "type": "quantitative", "scale": {"domain": [0, 800], "range": [0, 800], "nice": false, "zero": false}, "axis": null}, "y": {"field": "r", "type": "quantitative", "scale": {"domain": [0, 20], "range": [36, 376], "nice": false, "zero": false}, "axis": null}, "text": {"field": "w", "type": "nominal"}}},
{"transform": [{"filter": "isValid(datum.w) && datum.b"}], "mark": {"type": "text", "align": "right", "fontWeight": "bold"}, "encoding": {"x": {"datum": 368, "type": "quantitative", "scale": {"domain": [0, 800], "range": [0, 800], "nice": false, "zero": false}, "axis": null}, "y": {"field": "r", "type": "quantitative", "scale": {"domain": [0, 20], "range": [36, 376], "nice": false, "zero": false}, "axis": null}, "text": {"field": "w", "type": "nominal"}}},
{"transform": [{"filter": "isValid(datum.ci) && !datum.b"}], "mark": {"type": "text", "align": "left"}, "encoding": {"x": {"datum": 398, "type": "quantitative", "scale": {"domain": [0, 800], "range": [0, 800], "nice": false, "zero": false}, "axis": null}, "y": {"field": "r", "type": "quantitative", "scale": {"domain": [0, 20], "range": [36, 376], "nice": false, "zero": false}, "axis": null}, "text": {"field": "ci", "type": "nominal"}}},
{"transform": [{"filter": "isValid(datum.ci) && datum.b"}], "mark": {"type": "text", "align": "left", "fontWeight": "bold"}, "encoding": {"x": {"datum": 398, "type": "quantitative", "scale": {"domain": [0, 800], "range": [0, 800], "nice": false, "zero": false}, "axis": null}, "y": {"field": "r", "type": "quantitative", "scale": {"domain": [0, 20], "range": [36, 376], "nice": false, "zero": false}, "axis": null}, "text": {"field": "ci", "type": "nominal"}}},
{"transform": [{"filter": "isValid(datum.hc) && datum.r < 0"}], "mark": {"type": "text", "align": "center", "fontWeight": "bold"}, "encoding": {"x": {"datum": 426, "type": "quantitative", "scale": {"domain": [0, 800], "range": [0, 800], "nice": false, "zero": false}, "axis": null}, "y": {"field": "r", "type": "quantitative", "scale": {"domain": [0, 20], "range": [36, 376], "nice": false, "zero": false}, "axis": null}, "text": {"field": "hc", "type": "nominal"}}},
{"transform": [{"filter": "isValid(datum.hc) && datum.r >= 0"}], "mark": {"type": "text", "align": "center", "fontWeight": "bold"}, "encoding": {"x": {"datum": 437, "type": "quantitative", "scale": {"domain": [0, 800], "range": [0, 800], "nice": false, "zero": false}, "axis": null}, "y": {"field": "r", "type": "quantitative", "scale": {"domain": [0, 20], "range": [36, 376], "nice": false, "zero": false}, "axis": null}, "text": {"field": "hc", "type": "nominal"}}},
{"transform": [{"filter": "isValid(datum.ph)"}], "mark": {"type": "text", "align": "center", "fontWeight": "bold"}, "encoding": {"x": {"datum": 644, "type": "quantitative", "scale": {"domain": [0, 800], "range": [0, 800], "nice": false, "zero": false}, "axis": null}, "y": {"field": "r", "type": "quantitative", "scale": {"domain": [0, 20], "range": [36, 376], "nice": false, "zero": false}, "axis": null}, "text": {"field": "ph", "type": "nominal"}}},
{"data": {"values": [{}]}, "mark": {"type": "rule", "color": "#555", "strokeWidth": 1.3}, "encoding": {"y": {"datum": 0.37, "type": "quantitative", "scale": {"domain": [0, 20], "range": [36, 376], "nice": false, "zero": false}, "axis": null}}},
{"data": {"values": [{}]}, "mark": {"type": "text", "align": "left", "fontWeight": "bold"}, "encoding": {"x": {"datum": 9, "type": "quantitative", "scale": {"domain": [0, 800], "range": [0, 800], "nice": false, "zero": false}, "axis": null}, "y": {"datum": 20, "type": "quantitative", "scale": {"domain": [0, 20], "range": [36, 376], "nice": false, "zero": false}, "axis": null}, "text": {"value": "C"}}}
]},
{"layer": [
{"data": {"name": "fC"}, "mark": {"type": "rule", "color": "#222", "strokeWidth": 1.3, "yOffset": -3.5}, "encoding": {"x": {"field": "lo", "type": "quantitative", "scale": {"type": "log", "domain": [0.01, 100], "range": [503, 787], "nice": false}, "axis": null}, "x2": {"field": "hi"}, "y": {"field": "r", "type": "quantitative", "scale": {"domain": [0, 20], "range": [36, 376], "nice": false, "zero": false}, "axis": null}}},
{"data": {"name": "fC"}, "mark": {"type": "point", "shape": "square", "filled": true, "color": "#d22d2d", "opacity": 1, "yOffset": -3.5}, "encoding": {"x": {"field": "hr", "type": "quantitative", "scale": {"type": "log", "domain": [0.01, 100], "range": [503, 787], "nice": false}, "axis": null}, "y": {"field": "r", "type": "quantitative", "scale": {"domain": [0, 20], "range": [36, 376], "nice": false, "zero": false}, "axis": null}, "size": {"field": "w", "type": "quantitative", "scale": {"domain": [0, 34], "range": [0, 56]}, "legend": null}}},
{"data": {"name": "dC"}, "mark": {"type": "point", "filled": true, "color": "#000", "opacity": 1, "size": 169, "yOffset": -3.5}, "encoding": {"x": {"field": "hr", "type": "quantitative", "scale": {"type": "log", "domain": [0.01, 100], "range": [503, 787], "nice": false}, "axis": null}, "y": {"field": "r", "type": "quantitative", "scale": {"domain": [0, 20], "range": [36, 376], "nice": false, "zero": false}, "axis": null}, "shape": {"field": "k", "type": "nominal", "scale": {"domain": ["A", "B", "C1", "C2", "C3"], "range": ["M-1.08,0L0,-0.92L1.08,0L0,0.92Z", "M-1.31,0L0,-1L1.31,0L0,1Z", "M-1.5,0L0,-1L1.5,0L0,1Z", "M-1.08,0L0,-0.92L1.08,0L0,0.92Z", "M-1.08,0L0,-0.92L1.08,0L0,0.92Z"]}, "legend": null}}},
{"data": {"values": [{}]}, "mark": {"type": "rule", "color": "#444", "strokeWidth": 1.5}, "encoding": {"x": {"datum": 1, "type": "quantitative", "scale": {"type": "log", "domain": [0.01, 100], "range": [503, 787], "nice": false}, "axis": null}, "y": {"datum": 0.37, "type": "quantitative", "scale": {"domain": [0, 20], "range": [36, 376], "nice": false, "zero": false}, "axis": null}, "y2": {"datum": 16.84}}},
{"data": {"values": [{}]}, "mark": {"type": "rule", "color": "#333", "strokeWidth": 1.3}, "encoding": {"x": {"datum": 0.01, "type": "quantitative", "scale": {"type": "log", "domain": [0.01, 100], "range": [503, 787], "nice": false}, "axis": null}, "x2": {"datum": 100}, "y": {"datum": 16.84, "type": "quantitative", "scale": {"domain": [0, 20], "range": [36, 376], "nice": false, "zero": false}, "axis": null}}},
{"data": {"name": "ticks"}, "mark": {"type": "rule", "color": "#333", "strokeWidth": 1.3}, "encoding": {"x": {"field": "v", "type": "quantitative", "scale": {"type": "log", "domain": [0.01, 100], "range": [503, 787], "nice": false}, "axis": null}, "y": {"datum": 16.575, "type": "quantitative", "scale": {"domain": [0, 20], "range": [36, 376], "nice": false, "zero": false}, "axis": null}, "y2": {"datum": 17.105}}},
{"data": {"name": "ticks"}, "transform": [{"filter": "datum.v > 0.01 && datum.v < 100"}], "mark": {"type": "text", "align": "center"}, "encoding": {"x": {"field": "v", "type": "quantitative", "scale": {"type": "log", "domain": [0.01, 100], "range": [503, 787], "nice": false}, "axis": null}, "y": {"datum": 17.69, "type": "quantitative", "scale": {"domain": [0, 20], "range": [36, 376], "nice": false, "zero": false}, "axis": null}, "text": {"field": "v", "type": "quantitative", "format": "~g"}}},
{"data": {"name": "ticks"}, "transform": [{"filter": "datum.v <= 0.01"}], "mark": {"type": "text", "align": "center", "dx": 8}, "encoding": {"x": {"field": "v", "type": "quantitative", "scale": {"type": "log", "domain": [0.01, 100], "range": [503, 787], "nice": false}, "axis": null}, "y": {"datum": 17.69, "type": "quantitative", "scale": {"domain": [0, 20], "range": [36, 376], "nice": false, "zero": false}, "axis": null}, "text": {"field": "v", "type": "quantitative", "format": "~g"}}},
{"data": {"name": "ticks"}, "transform": [{"filter": "datum.v >= 100"}], "mark": {"type": "text", "align": "center", "dx": -7}, "encoding": {"x": {"field": "v", "type": "quantitative", "scale": {"type": "log", "domain": [0.01, 100], "range": [503, 787], "nice": false}, "axis": null}, "y": {"datum": 17.69, "type": "quantitative", "scale": {"domain": [0, 20], "range": [36, 376], "nice": false, "zero": false}, "axis": null}, "text": {"field": "v", "type": "quantitative", "format": "~g"}}},
{"data": {"values": [{}]}, "mark": {"type": "text", "align": "right", "dx": -5}, "encoding": {"x": {"datum": 1, "type": "quantitative", "scale": {"type": "log", "domain": [0.01, 100], "range": [503, 787], "nice": false}, "axis": null}, "y": {"datum": 18.5, "type": "quantitative", "scale": {"domain": [0, 20], "range": [36, 376], "nice": false, "zero": false}, "axis": null}, "text": {"value": "RT+CT"}}},
{"data": {"values": [{}]}, "mark": {"type": "text", "align": "left", "dx": 9}, "encoding": {"x": {"datum": 1, "type": "quantitative", "scale": {"type": "log", "domain": [0.01, 100], "range": [503, 787], "nice": false}, "axis": null}, "y": {"datum": 18.5, "type": "quantitative", "scale": {"domain": [0, 20], "range": [36, 376], "nice": false, "zero": false}, "axis": null}, "text": {"value": "RT"}}}
]}
]
}
]
}
